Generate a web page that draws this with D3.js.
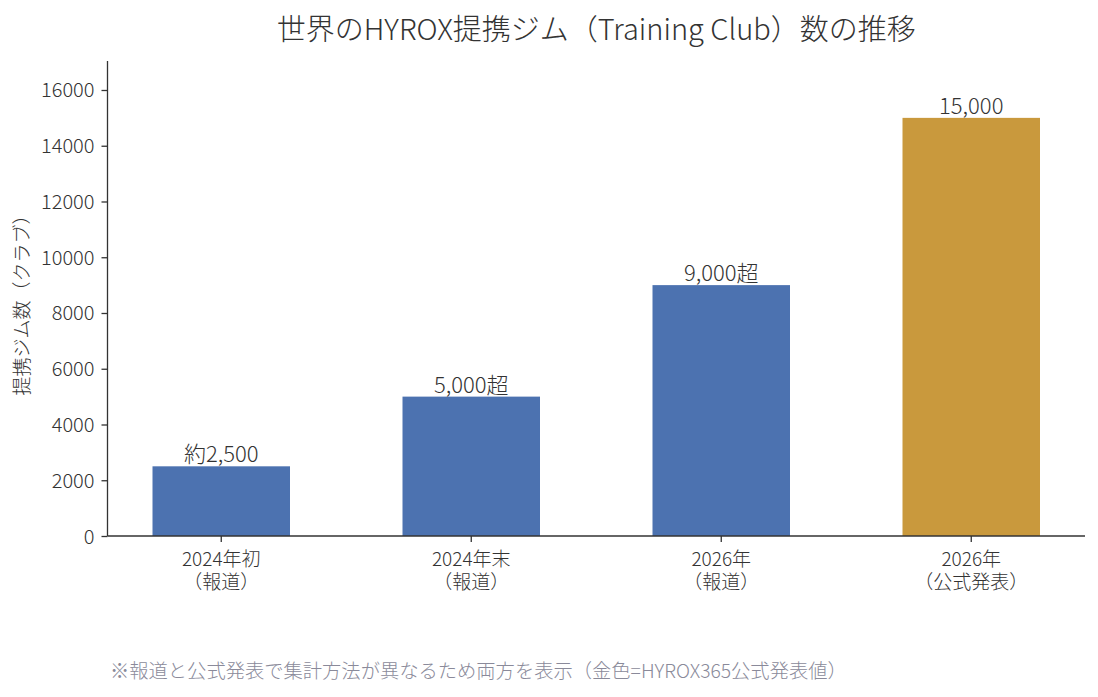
<!DOCTYPE html>
<html><head><meta charset="utf-8">
<script src="https://cdn.jsdelivr.net/npm/d3@7"></script>
<style>
body{margin:0;background:#fff;}
text{font-family:"Noto Sans CJK JP","Noto Sans",sans-serif;font-weight:200;}
</style></head><body>
<svg id="c" width="1098" height="697"></svg>
<script>
const categories = ["2024年初|（報道）","2024年末|（報道）","2026年|（報道）","2026年|（公式発表）"];
const values = [2500, 5000, 9000, 15000];
const valueLabels = ["約2,500","5,000超","9,000超","15,000"];
const isOfficial = [false, false, false, true];
const yTicks = [0,2000,4000,6000,8000,10000,12000,14000,16000];

const svg = d3.select("#c");
const L=107.5, R=1085, B=536, T=61;
const x = d3.scaleBand().domain(categories).range([L,R]).paddingInner(0.45).paddingOuter(0.18);
const y = d3.scaleLinear().domain([0,17040]).range([B,T]);
const ink="#333";

svg.append("text").attr("x",(L+R)/2).attr("y",40).attr("text-anchor","middle")
  .attr("font-size",29).attr("fill",ink).text("世界のHYROX提携ジム（Training Club）数の推移");

svg.selectAll("rect.bar").data(values).join("rect").attr("class","bar")
  .attr("x",(d,i)=>x(categories[i])).attr("width",x.bandwidth())
  .attr("y",d=>y(d)).attr("height",d=>B-y(d))
  .attr("fill",(d,i)=>isOfficial[i]?"#C9993D":"#4C72B0");

svg.selectAll("text.vl").data(values).join("text").attr("class","vl")
  .attr("x",(d,i)=>x(categories[i])+x.bandwidth()/2).attr("y",d=>y(d)-4)
  .attr("text-anchor","middle").attr("font-size",22).attr("fill",ink)
  .text((d,i)=>valueLabels[i]);

const ya = svg.append("g").attr("transform",`translate(${L},0)`)
  .call(d3.axisLeft(y).tickValues(yTicks).tickFormat(d3.format("d")).tickSize(6).tickPadding(7));
ya.select(".domain").attr("stroke",ink).attr("stroke-width",1.3).attr("d",`M0,${B}V${T}`);
ya.selectAll(".tick line").attr("stroke",ink).attr("stroke-width",1.3);
ya.selectAll(".tick text").attr("font-size",20).attr("fill",ink).attr("dy","0.35em");

const xa = svg.append("g").attr("transform",`translate(0,${B})`)
  .call(d3.axisBottom(x).tickSize(6).tickPadding(4).tickSizeOuter(0));
xa.select(".domain").attr("stroke",ink).attr("stroke-width",1.3).attr("d",`M${L},0H${R}`);
xa.selectAll(".tick line").attr("stroke",ink).attr("stroke-width",1.3);
xa.selectAll(".tick text").each(function(d){
  const t=d3.select(this); const parts=d.split("|");
  t.text(null).attr("font-size",19).attr("fill",ink).attr("y",null).attr("dy",null);
  t.append("tspan").attr("x",0).attr("y",30).text(parts[0]);
  t.append("tspan").attr("x",0).attr("y",53).text(parts[1]);
});

svg.append("text").attr("transform",`translate(29,${(B+T)/2+2}) rotate(-90)`)
  .attr("text-anchor","middle").attr("font-size",19).attr("fill",ink).text("提携ジム数（クラブ）");

svg.append("text").attr("x",110).attr("y",678).attr("font-size",19.3).attr("fill","#8a8a9a")
  .text("※報道と公式発表で集計方法が異なるため両方を表示（金色=HYROX365公式発表値）");
</script></body></html>
